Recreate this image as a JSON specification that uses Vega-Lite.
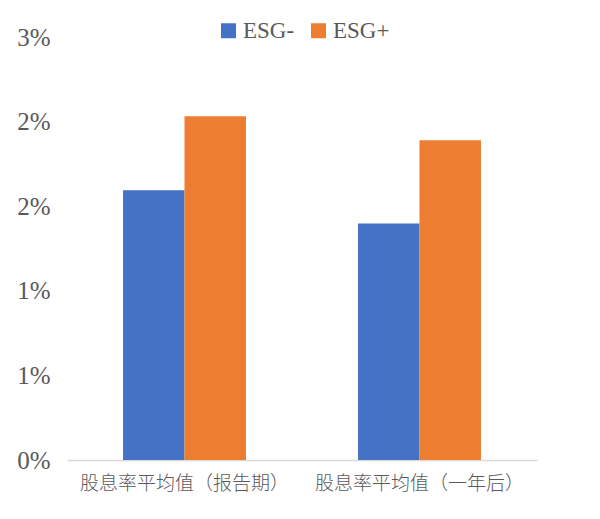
{
  "$schema": "https://vega.github.io/schema/vega-lite/v6.json",
  "autosize": "none",
  "width": 470,
  "height": 423,
  "padding": {"left": 67, "top": 37, "right": 63, "bottom": 59},
  "background": "white",
  "data": {
    "values": [
      {"category": "股息率平均值（报告期）", "group": "ESG-", "yield_pct": 1.594},
      {"category": "股息率平均值（报告期）", "group": "ESG+", "yield_pct": 2.032},
      {"category": "股息率平均值（一年后）", "group": "ESG-", "yield_pct": 1.398},
      {"category": "股息率平均值（一年后）", "group": "ESG+", "yield_pct": 1.89}
    ]
  },
  "mark": {"type": "bar"},
  "encoding": {
    "x": {
      "field": "category",
      "type": "nominal",
      "sort": null,
      "scale": {"paddingInner": 0.477, "paddingOuter": 0.2385},
      "axis": {
        "title": null,
        "labelAngle": 0,
        "labelLimit": 0,
        "labelFont": "Noto Sans CJK SC",
        "labelFontSize": 19,
        "labelFontWeight": 300,
        "labelColor": "#595959",
        "labelPadding": 14,
        "ticks": false,
        "domainColor": "#D9D9D9",
        "domainWidth": 1.5
      }
    },
    "xOffset": {"field": "group", "type": "nominal", "sort": ["ESG-", "ESG+"], "scale": {"paddingInner": 0, "paddingOuter": 0}},
    "y": {
      "field": "yield_pct",
      "type": "quantitative",
      "scale": {"domain": [0, 2.5], "nice": false},
      "axis": {
        "title": null,
        "values": [0, 0.5, 1, 1.5, 2, 2.5],
        "labelExpr": "round(datum.value) + '%'",
        "labelFont": "Liberation Serif",
        "labelFontSize": 25,
        "labelColor": "#595959",
        "labelPadding": 17,
        "ticks": false,
        "domain": false,
        "grid": false
      }
    },
    "color": {
      "field": "group",
      "type": "nominal",
      "sort": ["ESG-", "ESG+"],
      "scale": {"domain": ["ESG-", "ESG+"], "range": ["#4472C4", "#ED7D31"]},
      "legend": {
        "title": null,
        "orient": "none",
        "direction": "horizontal",
        "legendX": 150,
        "legendY": -18,
        "symbolType": "square",
        "symbolSize": 225,
        "symbolStrokeWidth": 0,
        "labelFont": "Liberation Serif",
        "labelFontSize": 23,
        "labelColor": "#595959",
        "columnPadding": 12,
        "labelOffset": 3
      }
    }
  },
  "config": {"view": {"stroke": null}}
}
